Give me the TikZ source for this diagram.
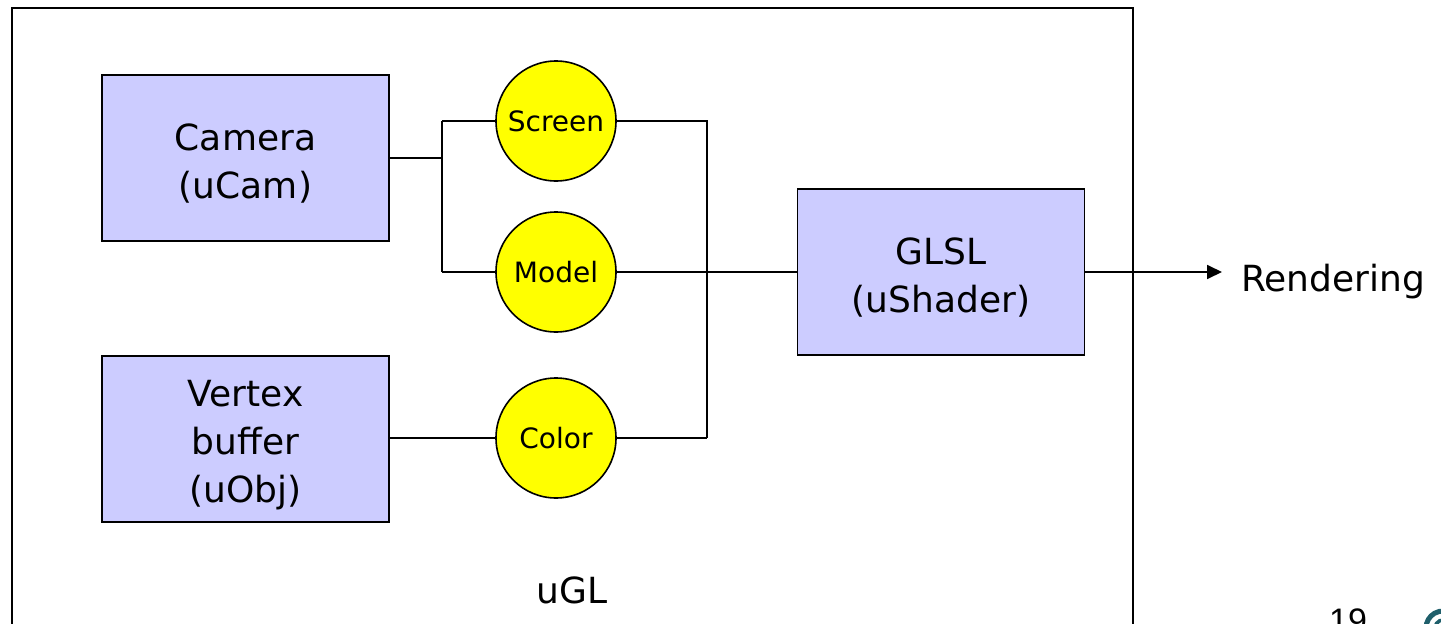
\documentclass[tikz,border=0pt]{standalone}
\usepackage{fontspec}
\setmainfont{DejaVu Sans}
\newfontfamily\pagenofont{Liberation Sans}
\usetikzlibrary{arrows.meta}
\definecolor{boxblue}{HTML}{CCCCFF}
\definecolor{dotyellow}{HTML}{FFFF00}
\definecolor{logoteal}{HTML}{1F5F6B}
\tikzset{
  unitbox/.style={draw=black, line width=1.8pt, fill=boxblue, minimum width=287pt,
    minimum height=166pt, inner sep=0pt},
  boxtext/.style={align=center, inner sep=0pt, yshift=-6pt,
    font=\fontsize{36}{48}\selectfont},
  matdot/.style={circle, draw=black, line width=1.6pt, fill=dotyellow,
    minimum size=120pt, inner sep=0pt, font=\fontsize{28}{32}\selectfont},
  wire/.style={line width=1.8pt, draw=black},
  bigtext/.style={font=\fontsize{36}{47}\selectfont, inner sep=0pt}
}
\begin{document}
\begin{tikzpicture}[x=1pt, y=-1pt]
  \useasboundingbox (0,0) rectangle (1441,624);
  \clip (0,0) rectangle (1441,624);
  % outer uGL frame
  \draw[line width=1.8pt] (12,8) rectangle (1133,660);
  \node[bigtext] (ugl) at (572,590) {uGL};

  % modules
  \node[unitbox, label={[boxtext]center:{Camera\\(uCam)}}] (cam) at (245.5,158) {};
  \node[unitbox, label={[boxtext]center:{Vertex\\buffer\\(uObj)}}] (vtx) at (245.5,439) {};
  \node[unitbox, label={[boxtext]center:{GLSL\\(uShader)}}] (glsl) at (941,272) {};

  % matrices / uniforms
  \node[matdot] (scr) at (556,121) {Screen};
  \node[matdot] (mdl) at (556,272) {Model};
  \node[matdot] (col) at (556,438) {Color};

  % junctions
  \coordinate (jl) at (442,158);
  \coordinate (jlt) at (442,121);
  \coordinate (jlb) at (442,272);
  \coordinate (jrt) at (707,121);
  \coordinate (jr) at (707,272);
  \coordinate (jrb) at (707,438);
  \coordinate (out) at (1222,272);

  % camera feeds screen and model
  \draw[wire] (cam.east |- jl) -- (jl);
  \draw[wire] (jlt) -- (jlb);
  \draw[wire] (jlt) -- (scr.west);
  \draw[wire] (jlb) -- (mdl.west);
  % vertex buffer feeds color
  \draw[wire] (vtx.east |- col.west) -- (col.west);
  % uniforms gathered into the shader
  \draw[wire] (scr.east) -- (jrt) -- (jrb);
  \draw[wire] (col.east) -- (jrb);
  \draw[wire] (mdl.east) -- (glsl.west |- jr);
  % output
  \draw[wire, -{Triangle[length=15pt, width=14pt]}] (glsl.east |- out) -- (out);
  \node[bigtext, anchor=west] (rend) at (1241,282) {Rendering};

  % page number and logo fragment
  \node[font=\pagenofont\fontsize{34}{34}\selectfont, anchor=base, inner sep=0pt] (pageno) at (1348,632) {19};
  \draw[logoteal, line width=5pt] (1443,628) ++(180:17) arc (180:275:17);
  \draw[logoteal, line width=3.5pt] (1443,628) ++(185:8) arc (185:300:8);
\end{tikzpicture}
\end{document}
